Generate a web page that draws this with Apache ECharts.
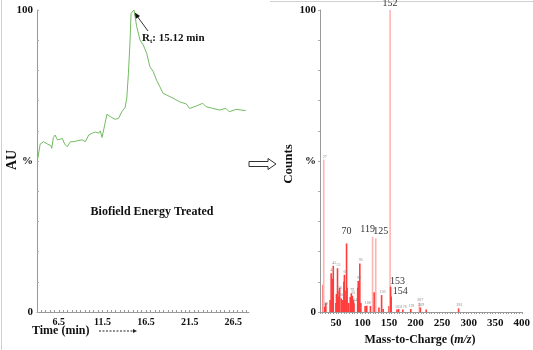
<!DOCTYPE html>
<html>
<head>
<meta charset="utf-8">
<script src="https://cdn.jsdelivr.net/npm/echarts@6/dist/echarts.min.js"></script>
<style>
  html, body { margin: 0; padding: 0; background: #fff; }
  #chart { width: 533px; height: 350px; }
</style>
</head>
<body>
<div id="chart"></div>
<script>
// chromatogram (left)
const times = [4.10, 4.36, 4.75, 5.20, 5.58, 5.69, 5.88, 6.07, 6.34, 6.64,
               6.90, 7.17, 7.47, 7.66, 7.85, 8.22, 8.61, 9.18, 9.55, 9.93,
               10.32, 10.69, 11.07, 11.26, 11.45, 11.64, 12.02, 12.40, 12.96, 13.34,
               13.72, 14.10, 14.29, 14.48, 14.67, 14.78, 14.93, 15.12, 15.43, 15.80,
               16.18, 16.57, 16.94, 17.32, 17.70, 18.08, 18.45, 18.83, 19.59, 20.35,
               21.11, 21.49, 22.25, 23.00, 23.38, 24.14, 24.90, 25.66, 26.03, 26.79,
               27.93];
const au = [50.9, 55.6, 56.4, 55.6, 55.1, 54.2, 57.8, 58.6, 57.0, 57.2,
            57.5, 55.6, 54.7, 55.6, 56.4, 56.4, 56.7, 57.0, 56.4, 58.6,
            59.2, 59.6, 59.2, 60.0, 57.8, 60.3, 65.5, 64.7, 63.8, 64.1,
            66.3, 67.8, 70.8, 79.0, 90.1, 98.9, 99.4, 100, 94.5, 90.1,
            88.4, 85.7, 81.2, 79.6, 76.8, 74.6, 72.4, 71.9, 70.8, 69.6,
            68.9, 67.4, 68.2, 69.1, 68.0, 67.4, 66.9, 67.4, 66.3, 67.1,
            66.7];
const timeTicks = [6.5, 11.5, 16.5, 21.5, 26.5];

// mass spectrum (right)
const mz =     [26, 27, 29, 31, 39, 41, 43, 45, 50, 51, 53, 55, 56, 57, 60, 63, 65, 66, 67, 69,
                70, 71, 74, 77, 79, 81, 83, 84, 91, 92, 93, 95, 97, 105, 108, 115, 119, 122, 125, 131,
                136, 139, 150, 152, 153, 154, 165, 168, 176, 191, 207, 209, 220, 281];
const counts = [9, 50.5, 1.8, 3, 4, 12.8, 11, 15.3, 3, 6, 14.5, 5, 7.0, 8, 4.5, 4, 10, 12.3, 7, 4,
                22.7, 8, 3, 5, 6.2, 5.4, 4, 2.9, 8, 10.3, 4, 16.1, 3, 2, 2.1, 2, 24.9, 6.5, 24.4, 1.5,
                5.6, 1, 2, 100, 8.4, 5.1, 0.8, 1, 0.8, 1, 3.1, 1.5, 0.8, 1.2];
const bigLabels = [70, 119, 125, 152, 153, 154];
const smallLabels = [27, 29, 41, 45, 53, 56, 60, 66, 79, 81, 84, 92, 95, 108, 136, 165, 176, 191, 207, 209, 281];
const mzTicks = [50, 100, 150, 200, 250, 300, 350, 400];

const chart = echarts.init(document.getElementById('chart'));
const serif = '"Liberation Serif", "DejaVu Serif", serif';

const pctLabel = v => (v === 100 ? '100' : v === 0 ? '0' : v === 50 ? '%' : '');
const fineTicks = (a, b, step) => {
  const out = [];
  for (let v = a; v <= b + 1e-9; v += step) out.push(+v.toFixed(2));
  return out;
};

// label tweaks so the crowded peak labels sit like the original
const labelOffset = { 70: [0, -5], 119: [-5, 0], 125: [5, 0], 152: [0, 0], 153: [7, 2], 154: [9, 2] };
const paleMz = [27, 119, 125, 152, 207];

const barData = mz.map((m, i) => {
  const item = { value: [m, counts[i]] };
  item.itemStyle = { color: paleMz.includes(m) ? '#ffb4b4' : '#ff3c3c' };
  if (bigLabels.includes(m)) {
    item.label = { show: true, position: 'top', distance: 2, offset: labelOffset[m],
                   fontFamily: serif, fontSize: 10, color: '#333', formatter: String(m) };
  } else if (smallLabels.includes(m)) {
    item.label = { show: true, position: 'top', distance: 1, offset: [1, 0],
                   fontFamily: serif, fontSize: 4, color: '#888', formatter: String(m) };
  }
  return item;
});

const yAxisCommon = {
  type: 'value', min: 0, max: 100, interval: 10,
  axisLine: { show: true, lineStyle: { color: '#999', width: 1 } },
  axisTick: { show: true, inside: true, length: 2, lineStyle: { color: '#aaa' } },
  splitLine: { show: false },
  axisLabel: { formatter: pctLabel, fontFamily: serif, fontWeight: 'bold', fontSize: 11, color: '#111', margin: 4 }
};

const option = {
  animation: false,
  backgroundColor: '#fff',
  grid: [
    { left: 37, top: 10, width: 212, height: 302 },
    { left: 320, top: 10, width: 202, height: 302 }
  ],
  xAxis: [
    {
      gridIndex: 0, type: 'value', min: 4, max: 28.3,
      axisLine: { lineStyle: { color: '#999' } },
      axisTick: { show: true, length: 2, inside: true, customValues: fineTicks(4, 28, 0.5), lineStyle: { color: '#999' } },
      axisLabel: { customValues: timeTicks, fontFamily: serif, fontWeight: 'bold', fontSize: 10, color: '#111', margin: 5 },
      splitLine: { show: false }
    },
    {
      gridIndex: 1, type: 'value', min: 20, max: 400,
      axisLine: { lineStyle: { color: '#999' } },
      axisTick: { show: true, length: 2, customValues: fineTicks(20, 400, 5), lineStyle: { color: '#999' } },
      axisLabel: { customValues: mzTicks, fontFamily: serif, fontWeight: 'bold', fontSize: 11, color: '#111', margin: 6 },
      splitLine: { show: false }
    }
  ],
  yAxis: [
    Object.assign({ gridIndex: 0 }, yAxisCommon),
    Object.assign({ gridIndex: 1 }, yAxisCommon, {
      axisTick: { show: true, inside: false, length: 2, lineStyle: { color: '#aaa' } }
    })
  ],
  series: [
    {
      type: 'line', xAxisIndex: 0, yAxisIndex: 0,
      data: times.map((t, i) => [t, au[i]]),
      symbol: 'none',
      lineStyle: { color: '#72bb62', width: 1 },
      markPoint: {
        symbol: 'none',
        data: [{ coord: [5.95, 58.6], label: { show: true, formatter: '1.33', fontSize: 4, color: '#888', offset: [0, -4] } }]
      }
    },
    {
      type: 'bar', xAxisIndex: 1, yAxisIndex: 1,
      data: barData,
      barWidth: 1.6,
      barGap: '-100%'
    }
  ],
  graphic: [
    // frame remnants
    { type: 'line', shape: { x1: 1.5, y1: 0, x2: 1.5, y2: 350 }, style: { stroke: '#d0d0d0', lineWidth: 1 } },
    { type: 'line', shape: { x1: 270, y1: 1.5, x2: 533, y2: 1.5 }, style: { stroke: '#d0d0d0', lineWidth: 1 } },
    // left panel texts
    { type: 'text', x: 12, y: 160, rotation: Math.PI / 2,
      style: { text: 'AU', font: 'bold 14px ' + serif, fill: '#111', align: 'center', verticalAlign: 'middle' } },
    { type: 'text', x: 152, y: 212,
      style: { text: 'Biofield Energy Treated', font: 'bold 12px ' + serif, fill: '#111', align: 'center', verticalAlign: 'middle' } },
    { type: 'text', x: 32, y: 331,
      style: { text: 'Time (min)', font: 'bold 12px ' + serif, fill: '#111', align: 'left', verticalAlign: 'middle' } },
    { type: 'line', shape: { x1: 99, y1: 331, x2: 134, y2: 331 }, style: { stroke: '#222', lineWidth: 1, lineDash: [2, 1.5] } },
    { type: 'polygon', shape: { points: [[137, 331], [133, 329], [133, 333]] }, style: { fill: '#222' } },
    { type: 'text', x: 142, y: 38,
      style: {
        text: '{r|R}{s|t}{r|: 15.12 min}',
        verticalAlign: 'middle', align: 'left',
        rich: {
          r: { font: 'bold 11px ' + serif, fill: '#111' },
          s: { font: 'bold 7px ' + serif, fill: '#111', padding: [6, 0, 0, 0] }
        }
      } },
    { type: 'line', shape: { x1: 148, y1: 31, x2: 137, y2: 16 }, style: { stroke: '#333', lineWidth: 1 } },
    { type: 'polygon', shape: { points: [[134, 12], [140, 16], [135.5, 19]] }, style: { fill: '#111' } },
    // hollow arrow between panels
    { type: 'polygon',
      shape: { points: [[249, 161.5], [268, 161.5], [268, 158.5], [276, 164], [268, 169.5], [268, 166.5], [249, 166.5]] },
      style: { fill: '#fff', stroke: '#333', lineWidth: 1 } },
    // right panel texts
    { type: 'text', x: 289, y: 164, rotation: Math.PI / 2,
      style: { text: 'Counts', font: 'bold 13px ' + serif, fill: '#111', align: 'center', verticalAlign: 'middle' } },
    { type: 'text', x: 420, y: 340,
      style: {
        text: '{b|Mass-to-Charge (}{i|m/z}{b|)}',
        align: 'center', verticalAlign: 'middle',
        rich: {
          b: { font: 'bold 12px ' + serif, fill: '#111' },
          i: { font: 'italic bold 12px ' + serif, fill: '#111' }
        }
      } }
  ]
};

chart.setOption(option);
window.addEventListener('resize', () => chart.resize());
</script>
</body>
</html>
